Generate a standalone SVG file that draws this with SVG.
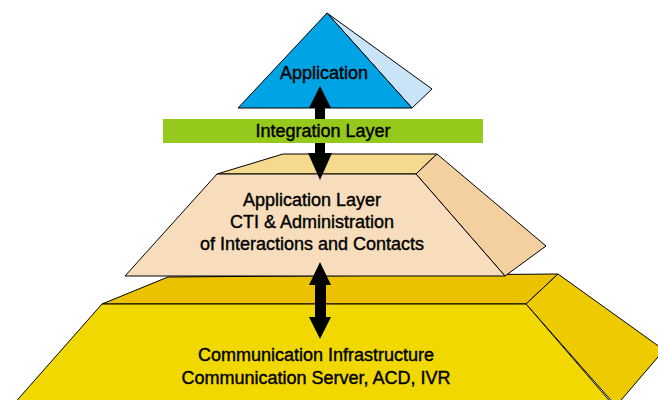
<svg xmlns="http://www.w3.org/2000/svg" width="658" height="400" viewBox="0 0 658 400">
<style>
  .edge { stroke: #000; stroke-width: 1; stroke-linejoin: round; }
  .lbl { font-family: "Liberation Sans", Arial, sans-serif; font-size: 18px; fill: #000; stroke: #000; stroke-width: 0.4; text-anchor: middle; }
  .arrow { fill: #000; stroke: none; }
</style>
<rect width="658" height="400" fill="#fff"/>
<g id="communication-infrastructure">
  <polygon class="edge" points="168,277 558,274 526,304 102,304" fill="#ecc200"/>
  <polygon class="edge" points="526,304 558,274 664,350 616,406" fill="#eecb00"/>
  <polygon class="edge" points="102,304 526,304 614,406 12,406" fill="#f0d800"/>
  <text class="lbl" x="316" y="361">Communication Infrastructure</text>
  <text class="lbl" x="316" y="384">Communication Server, ACD, IVR</text>
</g>
<g id="application-layer">
  <polygon class="edge" points="283,154 437,154 416,174 217,174" fill="#f5d98f"/>
  <polygon class="edge" points="416,174 437,154 546,246 505,276" fill="#f4cf9f"/>
  <polygon class="edge" points="217,174 416,174 505,276 125,276" fill="#f8ddbd"/>
  <text class="lbl" x="312" y="206">Application Layer</text>
  <text class="lbl" x="312" y="228">CTI &amp; Administration</text>
  <text class="lbl" x="312" y="250">of Interactions and Contacts</text>
</g>
<g id="application">
  <polygon class="edge" points="327,13 432,89 412,108" fill="#c8e4f6"/>
  <polygon class="edge" points="327,13 412,108 238,108" fill="#00a3e4"/>
  <text class="lbl" x="324" y="79">Application</text>
</g>
<g id="connectors">
  <polygon class="arrow" points="320,86 331,108 325,108 325,153 332,153 320,180 308,153 315,153 315,108 309,108"/>
  <polygon class="arrow" points="320,262 331,285 326,285 326,317 331,317 320,339 309,317 315,317 315,285 309,285"/>
</g>
<g id="integration-layer">
  <rect x="163" y="119" width="320" height="24" fill="#95c91c"/>
  <text class="lbl" x="323" y="137">Integration Layer</text>
</g>
</svg>
